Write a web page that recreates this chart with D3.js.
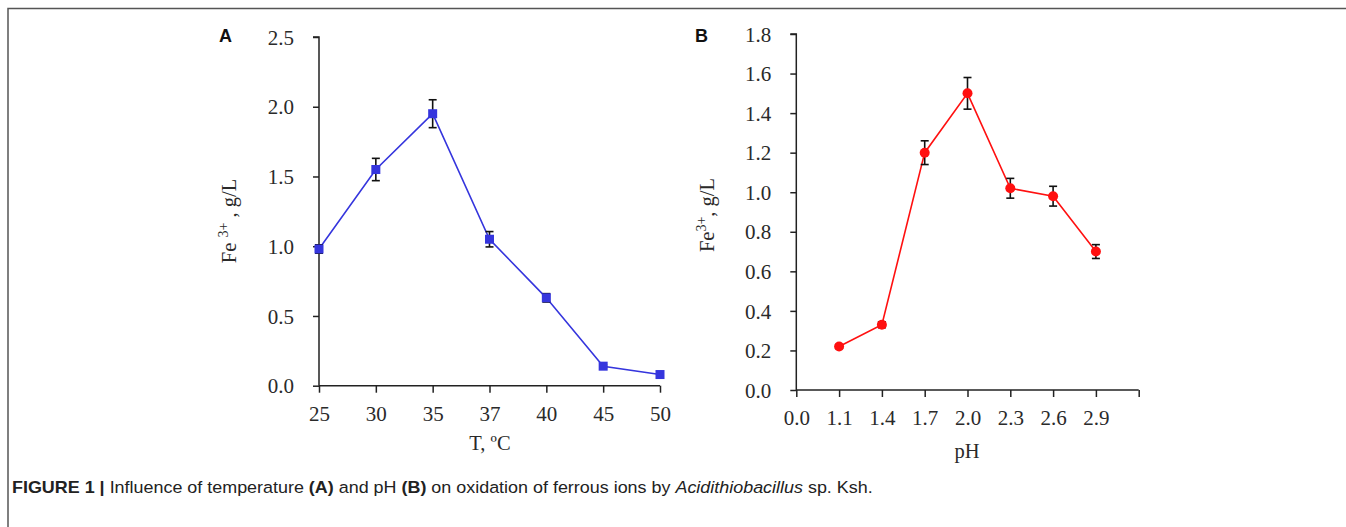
<!DOCTYPE html>
<html><head><meta charset="utf-8">
<script src="https://cdn.jsdelivr.net/npm/d3@7"></script>
<style>
html,body{margin:0;padding:0;background:#fff;}
svg{display:block;}
</style></head>
<body>
<svg id="c" width="1346" height="527"></svg>
<script>
// ---- Data ----
const tempCategories = ["25","30","35","37","40","45","50"];
const tempValues     = [0.98, 1.55, 1.95, 1.05, 0.63, 0.14, 0.08];
const tempErrors     = [0.03, 0.08, 0.10, 0.055, 0.03, 0.01, 0.01];
const tempYTicks     = [0, 0.5, 1.0, 1.5, 2.0, 2.5];

const phCategories   = ["0.0","1.1","1.4","1.7","2.0","2.3","2.6","2.9",""];
const phPoints       = ["1.1","1.4","1.7","2.0","2.3","2.6","2.9"];
const phValues       = [0.22, 0.33, 1.20, 1.50, 1.02, 0.98, 0.70];
const phErrors       = [0.01, 0.015, 0.06, 0.08, 0.05, 0.05, 0.035];
const phYTicks       = [0, 0.2, 0.4, 0.6, 0.8, 1.0, 1.2, 1.4, 1.6, 1.8];

const svg = d3.select("#c");
const serif = "'Liberation Serif','Times New Roman',serif";
const textCol = "#2a2a2a";

// frame
svg.append("path").attr("d","M8,527 L8,8.5 L1346,8.5").attr("fill","none").attr("stroke","#555").attr("stroke-width",1.5);

function panel(opt){
  const g = svg.append("g");
  const x = d3.scalePoint().domain(opt.cats).range(opt.xr).padding(0);
  const y = d3.scaleLinear().domain(opt.yd).range(opt.yr);
  const ya = g.append("g").attr("transform",`translate(${opt.xr[0]},0)`)
    .call(d3.axisLeft(y).tickValues(opt.yt).tickSize(6).tickPadding(19).tickFormat(d3.format(".1f")));
  const xa = g.append("g").attr("transform",`translate(0,${opt.yr[0]})`)
    .call(d3.axisBottom(x).tickSize(7).tickPadding(13));
  [ya,xa].forEach(a=>{
    a.select(".domain").attr("stroke","#222").attr("stroke-width",1.5);
    a.selectAll(".tick line").attr("stroke","#222").attr("stroke-width",1.5);
    a.selectAll(".tick text").attr("font-family",serif).attr("font-size",21).attr("fill",textCol);
  });
  ya.select(".domain").attr("d",`M0,${opt.yr[0]}V${opt.yr[1]}H-6`);
  ya.selectAll(".tick text").attr("dy","0.34em");
  xa.select(".domain").attr("d",`M${opt.xr[0]},0H${opt.xr[1]}`);
  xa.selectAll(".tick text").attr("dy","0.72em");

  const pts = opt.px.map((c,i)=>({x:x(c), v:opt.vals[i], e:opt.errs[i]}));
  g.append("path").datum(pts)
    .attr("d", d3.line().x(d=>d.x).y(d=>y(d.v)))
    .attr("fill","none").attr("stroke",opt.color).attr("stroke-width",1.6);
  const eb = g.append("g").selectAll("g").data(pts).join("g");
  eb.append("line").attr("x1",d=>d.x).attr("x2",d=>d.x).attr("y1",d=>y(d.v+d.e)).attr("y2",d=>y(d.v-d.e))
    .attr("stroke","#111").attr("stroke-width",1.6);
  eb.append("line").attr("x1",d=>d.x-4).attr("x2",d=>d.x+4).attr("y1",d=>y(d.v+d.e)).attr("y2",d=>y(d.v+d.e))
    .attr("stroke","#111").attr("stroke-width",1.6);
  eb.append("line").attr("x1",d=>d.x-4).attr("x2",d=>d.x+4).attr("y1",d=>y(d.v-d.e)).attr("y2",d=>y(d.v-d.e))
    .attr("stroke","#111").attr("stroke-width",1.6);
  if(opt.marker==="square"){
    g.append("g").selectAll("rect").data(pts).join("rect")
      .attr("x",d=>d.x-4.5).attr("y",d=>y(d.v)-4.5).attr("width",9).attr("height",9)
      .attr("fill",opt.color);
  } else {
    g.append("g").selectAll("circle").data(pts).join("circle")
      .attr("cx",d=>d.x).attr("cy",d=>y(d.v)).attr("r",5).attr("fill",opt.color);
  }
  return {x,y};
}

panel({cats:tempCategories, px:tempCategories, vals:tempValues, errs:tempErrors,
  xr:[319,660], yd:[0,2.5], yr:[385.7,37], yt:tempYTicks, color:"#3535dd", marker:"square"});
panel({cats:phCategories, px:phPoints, vals:phValues, errs:phErrors,
  xr:[796.3,1138.7], yd:[0,1.8], yr:[390,34], yt:phYTicks, color:"#ff1010", marker:"circle"});

svg.append("text").attr("x",219).attr("y",42).text("A")
  .attr("font-family","'Liberation Sans',Arial,sans-serif").attr("font-weight","bold").attr("font-size",18).attr("fill","#111");
svg.append("text").attr("x",695).attr("y",42).text("B")
  .attr("font-family","'Liberation Sans',Arial,sans-serif").attr("font-weight","bold").attr("font-size",18).attr("fill","#111");

function ytitle(x,y,parts){
  const t = svg.append("text").attr("transform",`translate(${x},${y}) rotate(-90)`)
    .attr("text-anchor","middle").attr("font-family",serif).attr("font-size",20.5).attr("fill",textCol);
  parts.forEach(p=>{
    const s=t.append("tspan").text(p.t);
    if(p.sup){ s.attr("font-size",14).attr("dy",-8); }
    if(p.down){ s.attr("dy",8); }
  });
}
ytitle(235.5,221,[{t:"Fe "},{t:"3+",sup:true},{t:" , g/L",down:true}]);
ytitle(713.5,215,[{t:"Fe"},{t:"3+",sup:true},{t:", g/L",down:true}]);

svg.append("text").attr("x",490).attr("y",450).attr("text-anchor","middle")
  .attr("font-family",serif).attr("font-size",20.5).attr("fill",textCol).text("T, ºC");
svg.append("text").attr("x",967).attr("y",458).attr("text-anchor","middle")
  .attr("font-family",serif).attr("font-size",20.5).attr("fill",textCol).text("pH");

// caption
const cap = svg.append("text").attr("transform","translate(12,493) scale(1.1,1)")
  .attr("font-family","'Liberation Sans',Arial,sans-serif").attr("font-size",16.3).attr("fill","#222");
cap.append("tspan").attr("font-weight","bold").text("FIGURE 1 | ");
cap.append("tspan").text("Influence of temperature ");
cap.append("tspan").attr("font-weight","bold").text("(A)");
cap.append("tspan").text(" and pH ");
cap.append("tspan").attr("font-weight","bold").text("(B)");
cap.append("tspan").text(" on oxidation of ferrous ions by ");
cap.append("tspan").attr("font-style","italic").text("Acidithiobacillus");
cap.append("tspan").text(" sp. Ksh.");
</script>
</body></html>
